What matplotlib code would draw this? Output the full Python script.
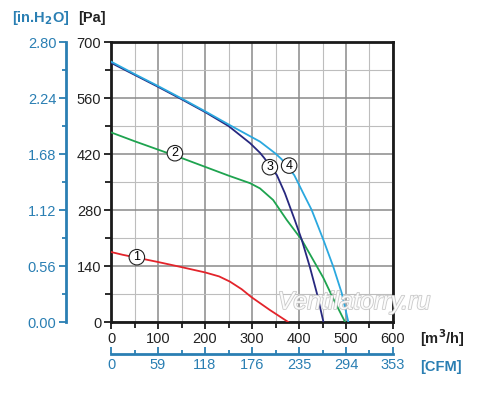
import matplotlib
matplotlib.use('Agg')
import matplotlib.pyplot as plt
import matplotlib.patheffects as pe
from matplotlib.ticker import MultipleLocator

plt.rcParams['font.family'] = ['Liberation Sans', 'DejaVu Sans']

# fan curves, flow [m3/h] vs pressure [Pa]
x1 = [0, 25, 50, 100, 147, 200, 230, 253, 278, 299, 338, 377]
y1 = [175, 168, 162, 150, 138, 124, 114, 101, 82, 62, 30, 0]

x2 = [0, 50, 100, 150, 200, 250, 296, 317, 345, 374, 406, 423, 452, 473, 498]
y2 = [474, 452, 431, 410, 388, 366, 347, 334, 305, 255, 205, 170, 110, 58, 0]

x3 = [0, 50, 100, 150, 200, 250, 296, 317, 326, 353, 370, 391, 406, 423, 438, 452]
y3 = [648, 618, 588, 557, 525, 490, 447, 423, 410, 367, 322, 255, 205, 138, 72, 0]

x4 = [0, 50, 100, 150, 200, 253, 317, 349, 363, 390, 409, 427, 452, 473, 491, 505]
y4 = [651, 620, 590, 559, 527, 492, 451, 422, 407, 367, 322, 280, 205, 138, 72, 0]

labels = ['1', '2', '3', '4']
label_x = [55, 136, 338, 379]
label_y = [162, 422, 387, 391]

flow_ticks = [0, 100, 200, 300, 400, 500, 600]
cfm_labels = ['0', '59', '118', '176', '235', '294', '353']
pa_ticks = [0, 140, 280, 420, 560, 700]
inh2o_labels = ['0.00', '0.56', '1.12', '1.68', '2.24', '2.80']

blue = '#2a7fb3'
fig = plt.figure(figsize=(5, 4.07), dpi=100)
ax = fig.add_axes([111 / 500, 85 / 407, 282 / 500, 280 / 407])

ax.plot(x1, y1, color='#e3242b', lw=1.3, zorder=3)
ax.plot(x2, y2, color='#1ea34f', lw=1.3, zorder=3)
ax.plot(x3, y3, color='#27287f', lw=1.3, zorder=3)
ax.plot(x4, y4, color='#2aa8df', lw=1.3, zorder=3)

for t, lx, ly in zip(labels, label_x, label_y):
    ax.text(lx, ly, t, ha='center', va='center', fontsize=9, zorder=5,
            bbox=dict(boxstyle='circle,pad=0.14', fc='white', ec='#222222', lw=0.8))

ax.set_xlim(0, 600)
ax.set_ylim(0, 700)
ax.set_xticks(flow_ticks)
ax.set_yticks(pa_ticks)
ax.xaxis.set_minor_locator(MultipleLocator(50))
ax.yaxis.set_minor_locator(MultipleLocator(70))
ax.grid(which='major', color='#8a8a8a', lw=1.1)
ax.grid(which='minor', color='#bdbdbd', lw=0.8)
ax.set_axisbelow(True)
for s in ax.spines.values():
    s.set_linewidth(2)
    s.set_color('#1a1a1a')
ax.tick_params(which='both', direction='out', width=1.3, color='#1a1a1a',
               labelsize=10.5, labelcolor='#222222')
ax.tick_params(which='major', length=5, pad=2)
ax.tick_params(which='minor', length=4)

# blue inch water axis on the left
ay = ax.secondary_yaxis(-45 / 282)
ay.set_yticks(pa_ticks, inh2o_labels)
ay.yaxis.set_minor_locator(MultipleLocator(70))
ay.spines['left'].set_color(blue)
ay.spines['left'].set_linewidth(2)
ay.tick_params(which='both', direction='out', color=blue, width=1.3,
               labelsize=10.5, labelcolor=blue)
ay.tick_params(which='major', length=5, pad=2)
ay.tick_params(which='minor', length=3)

# blue CFM axis at the bottom
axx = ax.secondary_xaxis(-32 / 280)
axx.set_xticks(flow_ticks, cfm_labels)
axx.xaxis.set_minor_locator(MultipleLocator(50))
axx.spines['bottom'].set_color(blue)
axx.spines['bottom'].set_linewidth(2)
axx.tick_params(which='both', direction='in', color=blue, width=1.3,
                labelsize=10.5, labelcolor=blue)
axx.tick_params(which='major', length=5, pad=3)
axx.tick_params(which='minor', length=3)

fig.text(78 / 500, 1 - 18 / 407, '[Pa]', fontsize=10.5, fontweight='bold',
         color='#222222', va='center')
fig.text(12 / 500, 1 - 18 / 407, r'[in.H$_\mathbf{2}$O]', fontsize=10.5,
         fontweight='bold', color=blue, va='center')
fig.text(420 / 500, 1 - 338 / 407, r'[m$^\mathbf{3}$/h]', fontsize=10.5,
         fontweight='bold', color='#222222', va='center')
fig.text(420 / 500, 1 - 367 / 407, '[CFM]', fontsize=10.5,
         fontweight='bold', color=blue, va='center')

fig.text(354 / 500, 1 - 302 / 407, 'Ventilatorry.ru', fontsize=18,
         style='italic', color='white', ha='center', va='center', alpha=0.9,
         path_effects=[pe.withStroke(linewidth=1.2, foreground='#c4c4c4')])

fig.savefig('out.png', dpi=100)
